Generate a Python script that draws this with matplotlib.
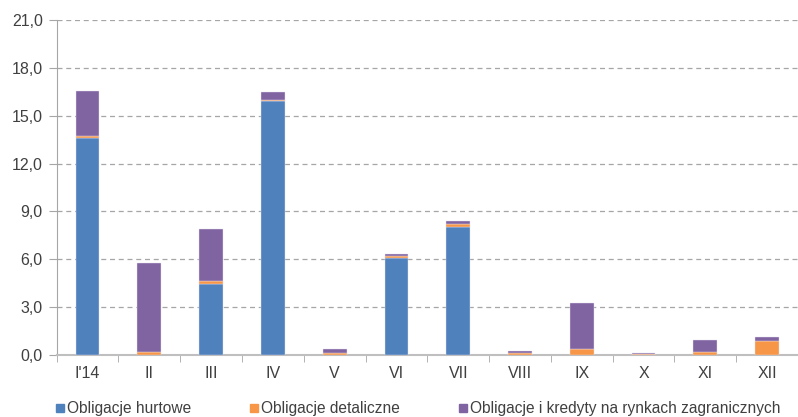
import matplotlib
matplotlib.use("Agg")
import matplotlib.pyplot as plt
from matplotlib.patches import Rectangle
import numpy as np

plt.rcParams['font.family'] = ['Liberation Sans', 'DejaVu Sans']

months = ["I'14", "II", "III", "IV", "V", "VI", "VII", "VIII", "IX", "X", "XI", "XII"]
hurtowe = [13.6, 0.0, 4.45, 15.9, 0.0, 6.1, 8.05, 0.0, 0.0, 0.0, 0.0, 0.0]
detaliczne = [0.15, 0.2, 0.17, 0.1, 0.12, 0.12, 0.15, 0.15, 0.38, 0.05, 0.2, 0.88]
zagraniczne = [2.8, 5.55, 3.26, 0.47, 0.25, 0.12, 0.2, 0.08, 2.88, 0.06, 0.75, 0.27]
series_names = ["Obligacje hurtowe", "Obligacje detaliczne",
                "Obligacje i kredyty na rynkach zagranicznych"]
colors = ["#4F81BD", "#F79646", "#8064A2"]
y_ticks = [0, 3, 6, 9, 12, 15, 18, 21]

W, H = 798, 417
fig = plt.figure(figsize=(W / 100, H / 100), dpi=100)
left, right_px, top, bottom = 56.7, 798, 20, 355
ax = fig.add_axes([left / W, 1 - bottom / H, (right_px - left) / W, (bottom - top) / H])

x = np.arange(len(months))
bw = 0.385
base = np.zeros(len(months))
for vals, c, name in zip([hurtowe, detaliczne, zagraniczne], colors, series_names):
    ax.bar(x, vals, bw, bottom=base, color=c, edgecolor="#E6E0EE", linewidth=0.3,
           label=name, zorder=3)
    base = base + np.array(vals)

ax.set_ylim(0, 21)
ax.set_xlim(-0.5, -0.5 + (right_px - left) / 62.5)
ax.set_yticks(y_ticks)
ax.set_yticklabels([f"{v:.1f}".replace(".", ",") for v in y_ticks], fontsize=11.5, color="#404040")
ax.yaxis.grid(True, linestyle=(0, (4, 3)), color="#A6A6A6", linewidth=0.9, zorder=0)
ax.set_xticks(x)
ax.set_xticklabels(months, fontsize=11.5, color="#404040")
ax.set_xticks(np.arange(len(months) + 1) - 0.5, minor=True)
ax.tick_params(axis="x", which="major", length=0, pad=8)
ax.tick_params(axis="x", which="minor", length=5, color="#A6A6A6", direction="out")
ax.tick_params(axis="y", length=6, color="#A6A6A6", direction="out", pad=4)

for s in ["top", "right"]:
    ax.spines[s].set_visible(False)
ax.spines["left"].set_color("#A6A6A6")
ax.spines["bottom"].set_color("#BFBFBF")
ax.spines["bottom"].set_linewidth(1.5)

# legend row along the bottom edge
legend_x = [56, 250, 459]
for lx, c, name in zip(legend_x, colors, series_names):
    fig.patches.append(Rectangle((lx / W, 1 - 412 / H), 8 / W, 8 / H,
                                 transform=fig.transFigure, color=c))
    fig.text((lx + 11) / W, 1 - 408.5 / H, name, fontsize=11.2, color="#404040",
             va="center", ha="left")

fig.savefig("out.png", dpi=100)
